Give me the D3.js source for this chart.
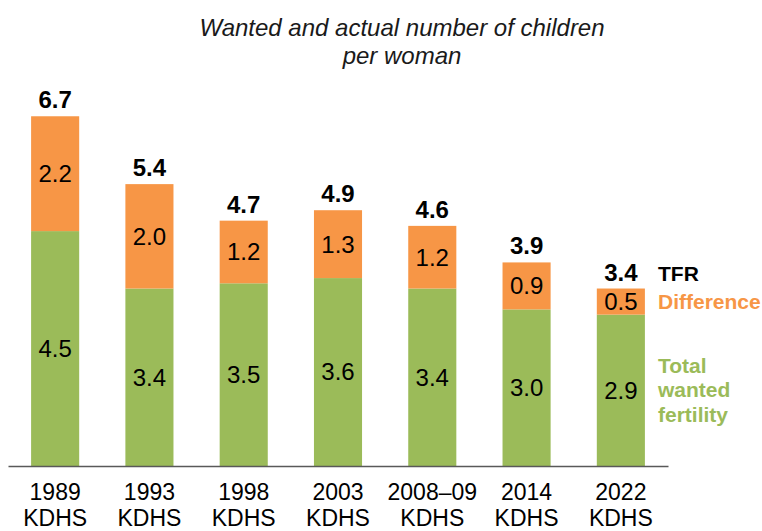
<!DOCTYPE html>
<html>
<head>
<meta charset="utf-8">
<script src="https://cdn.jsdelivr.net/npm/d3@7"></script>
<style>
  body { margin: 0; background: #fff; }
  svg text { font-family: "Liberation Sans", Arial, sans-serif; }
</style>
</head>
<body>
<svg id="chart"></svg>
<script>
// survey rounds
const years = ["1989", "1993", "1998", "2003", "2008–09", "2014", "2022"];
const wanted = [4.5, 3.4, 3.5, 3.6, 3.4, 3.0, 2.9];
const difference = [2.2, 2.0, 1.2, 1.3, 1.2, 0.9, 0.5];
const tfr = [6.7, 5.4, 4.7, 4.9, 4.6, 3.9, 3.4];
const titleLines = ["Wanted and actual number of children", "per woman"];
const legendWanted = ["Total", "wanted", "fertility"];

const W = 762, H = 531;
const green = "#9BBB59", orange = "#F79646";

const svg = d3.select("#chart").attr("width", W).attr("height", H);

const x = d3.scaleBand()
  .domain(years)
  .range([8, 668])
  .paddingInner(0.49)
  .paddingOuter(0.245);

const y = d3.scaleLinear()
  .domain([0, 7])
  .range([466, 466 - 7 * 52.2]);

const rows = years.map((yr, i) => ({ yr, wanted: wanted[i], diff: difference[i], tfr: tfr[i] }));

// title
svg.append("text")
  .attr("x", 402).attr("y", 36)
  .attr("text-anchor", "middle")
  .style("font-size", "24px").style("font-style", "italic").attr("fill", "#1a1a1a")
  .selectAll("tspan").data(titleLines).join("tspan")
  .attr("x", 402).attr("dy", (d, i) => i ? 28 : 0)
  .text(d => d);

// green (wanted) segments
svg.append("g").selectAll("rect").data(rows).join("rect")
  .attr("x", d => x(d.yr))
  .attr("width", x.bandwidth())
  .attr("y", d => y(d.wanted))
  .attr("height", d => y(0) - y(d.wanted))
  .attr("fill", green);

// orange (difference) segments
svg.append("g").selectAll("rect").data(rows).join("rect")
  .attr("x", d => x(d.yr))
  .attr("width", x.bandwidth())
  .attr("y", d => y(d.wanted + d.diff))
  .attr("height", d => y(d.wanted) - y(d.wanted + d.diff))
  .attr("fill", orange);

// segment labels
const lbl = svg.append("g").style("font-size", "24px").attr("fill", "#000").attr("text-anchor", "middle");
lbl.selectAll(".w").data(rows).join("text")
  .attr("x", d => x(d.yr) + x.bandwidth() / 2)
  .attr("y", d => (y(0) + y(d.wanted)) / 2)
  .attr("dy", "0.35em")
  .text(d => d.wanted.toFixed(1));
lbl.selectAll(".d").data(rows).join("text")
  .attr("x", d => x(d.yr) + x.bandwidth() / 2)
  .attr("y", d => (y(d.wanted) + y(d.wanted + d.diff)) / 2)
  .attr("dy", "0.35em")
  .text(d => d.diff.toFixed(1));

// totals
svg.append("g").selectAll("text").data(rows).join("text")
  .attr("x", d => x(d.yr) + x.bandwidth() / 2)
  .attr("y", d => y(d.wanted + d.diff) - 8)
  .attr("text-anchor", "middle")
  .style("font-size", "24px").style("font-weight", "bold")
  .text(d => d.tfr.toFixed(1));

// x axis
const xAxis = svg.append("g")
  .attr("transform", `translate(0,${y(0)})`)
  .call(d3.axisBottom(x).tickSize(0).tickSizeOuter(0));
xAxis.select(".domain").attr("stroke", "#595959").attr("stroke-width", 1.3);
xAxis.selectAll(".tick text").remove();
xAxis.selectAll(".tick").append("text")
  .attr("fill", "#000")
  .attr("text-anchor", "middle")
  .style("font-size", "23px")
  .style("font-family", "'Liberation Sans', Arial, sans-serif")
  .selectAll("tspan").data(d => [d, "KDHS"]).join("tspan")
  .attr("x", 0)
  .attr("y", (d, i) => 34 + i * 26)
  .text(d => d);

// legend, next to the last bar
const last = rows[rows.length - 1];
const lx = 658;
svg.append("text")
  .attr("x", lx).attr("y", y(last.tfr) - 8)
  .style("font-size", "21px").style("font-weight", "bold").attr("fill", "#000")
  .text("TFR");
svg.append("text")
  .attr("x", lx).attr("y", (y(last.wanted) + y(last.tfr)) / 2).attr("dy", "0.35em")
  .style("font-size", "21px").style("font-weight", "bold").attr("fill", orange)
  .text("Difference");
svg.append("text")
  .attr("x", lx).attr("y", (y(0) + y(last.wanted)) / 2 + 7)
  .style("font-size", "21px").style("font-weight", "bold").attr("fill", green)
  .selectAll("tspan").data(legendWanted).join("tspan")
  .attr("x", lx).attr("dy", (d, i) => i === 0 ? -24.5 : 24.5)
  .text(d => d);
</script>
</body>
</html>
